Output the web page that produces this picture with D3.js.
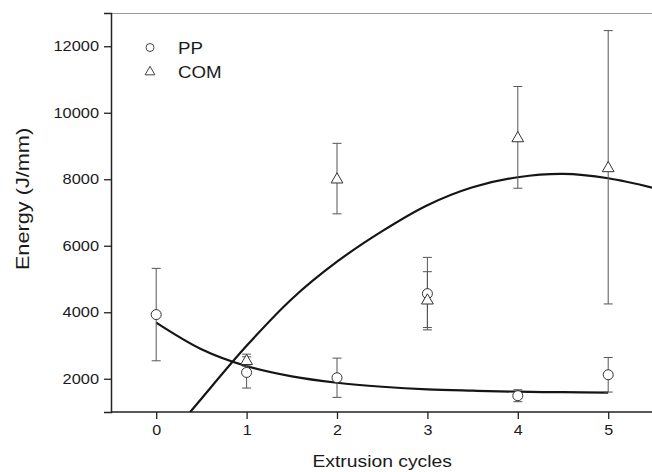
<!DOCTYPE html>
<html>
<head>
<meta charset="utf-8">
<script src="https://cdn.jsdelivr.net/npm/d3@7"></script>
<style>
	body { margin: 0; background: #fff; }
	text { font-family: 'Liberation Sans', Arial, sans-serif; fill: #1a1a1a; }
</style>
</head>
<body>
<div id="chart"></div>
<script>
// extrusion cycles and measured energy
const cycles = [0, 1, 2, 3, 4, 5];
const ppMean = [3930, 2190, 2030, 4560, 1490, 2120];
const ppErr = [1390, 470, 590, 1090, 180, 520];

const comCycles = [1, 2, 3, 4, 5];
const comMean = [2560, 8020, 4380, 9260, 8360];
const comErr = [180, 1060, 840, 1530, 4110];

// fitted curves
const ppFitX = [0, 0.5, 1, 1.5, 2, 2.5, 3, 3.5, 4, 4.5, 5];
const ppFitY = [3690, 2890, 2380, 2070, 1880, 1760, 1680, 1640, 1610, 1595, 1585];
const comFitX = [0.376, 0.5, 1, 1.5, 2, 2.5, 3, 3.5, 4, 4.5, 5, 5.5];
const comFitY = [1000, 1400, 2990, 4400, 5520, 6440, 7220, 7760, 8060, 8160, 8030, 7740];

const xTicks = [0, 1, 2, 3, 4, 5];
const yTicks = [2000, 4000, 6000, 8000, 10000, 12000];
const seriesNames = ['PP', 'COM'];

const width = 652, height = 472;
const margin = { top: 13, right: -1.4, bottom: 60, left: 111 };

const svg = d3.select('#chart').append('svg')
	.attr('width', width)
	.attr('height', height);

const x = d3.scaleLinear().domain([-0.5, 5.5]).range([margin.left, width - margin.right]);
const y = d3.scaleLinear().domain([1000, 13000]).range([height - margin.bottom, margin.top]);

// the original typeface is wider than Arial
const widen = (sel, k) => sel.each(function() {
	const w = this.getComputedTextLength();
	d3.select(this).attr('textLength', w * k).attr('lengthAdjust', 'spacingAndGlyphs');
});

svg.append('defs').append('clipPath').attr('id', 'plot')
	.append('rect')
	.attr('x', margin.left).attr('y', margin.top)
	.attr('width', x.range()[1] - margin.left)
	.attr('height', y.range()[0] - margin.top);

// top frame line
svg.append('line')
	.attr('x1', margin.left).attr('x2', width)
	.attr('y1', margin.top + 0.5).attr('y2', margin.top + 0.5)
	.attr('stroke', '#999').attr('stroke-width', 1);

// axes
const xAxis = svg.append('g')
	.attr('transform', `translate(0,${y.range()[0]})`)
	.call(d3.axisBottom(x).tickValues(xTicks).tickFormat(d3.format('d')).tickSizeOuter(0).tickSize(7).tickPadding(6));
xAxis.select('.domain').attr('stroke', '#222').attr('stroke-width', 1.5).attr('d', `M${margin.left},0H${width}`);
xAxis.selectAll('.tick line').attr('stroke', '#222').attr('stroke-width', 1.3);
xAxis.selectAll('.tick text').style('font-size', '14px').attr('fill', '#222').call(widen, 1.15);

const yAxis = svg.append('g')
	.attr('transform', `translate(${margin.left},0)`)
	.call(d3.axisLeft(y).tickValues(yTicks).tickFormat(d3.format('d')).tickSizeOuter(0).tickSize(7).tickPadding(5));
yAxis.select('.domain').attr('stroke', '#222').attr('stroke-width', 1.5);
yAxis.selectAll('.tick line').attr('stroke', '#222').attr('stroke-width', 1.3);
yAxis.selectAll('.tick text').style('font-size', '14px').attr('fill', '#222').call(widen, 1.17);

svg.append('text')
	.attr('x', (margin.left + x.range()[1]) / 2)
	.attr('y', 467)
	.attr('text-anchor', 'middle')
	.style('font-size', '16.5px')
	.text('Extrusion cycles')
	.call(widen, 1.17);

svg.append('text')
	.attr('transform', 'translate(29,199) rotate(-90)')
	.attr('text-anchor', 'middle')
	.style('font-size', '17.5px')
	.text('Energy (J/mm)')
	.call(widen, 1.24);

// fit curves
const plot = svg.append('g').attr('clip-path', 'url(#plot)');
const line = d3.line()
	.x(d => x(d[0]))
	.y(d => y(d[1]))
	.curve(d3.curveCatmullRom);

plot.append('path')
	.datum(ppFitX.map((v, i) => [v, ppFitY[i]]))
	.attr('d', line)
	.attr('fill', 'none').attr('stroke', '#151515').attr('stroke-width', 2.2);
plot.append('path')
	.datum(comFitX.map((v, i) => [v, comFitY[i]]))
	.attr('d', line)
	.attr('fill', 'none').attr('stroke', '#151515').attr('stroke-width', 2.2);

// error bars
const drawErrors = (xs, means, errs) => {
	const g = svg.append('g').attr('stroke', '#555').attr('stroke-width', 1);
	xs.forEach((c, i) => {
		const lo = y(means[i] - errs[i]), hi = y(means[i] + errs[i]), cx = x(c);
		g.append('line').attr('x1', cx).attr('x2', cx).attr('y1', lo).attr('y2', hi);
		g.append('line').attr('x1', cx - 4.5).attr('x2', cx + 4.5).attr('y1', hi).attr('y2', hi);
		g.append('line').attr('x1', cx - 4.5).attr('x2', cx + 4.5).attr('y1', lo).attr('y2', lo);
	});
};
drawErrors(cycles, ppMean, ppErr);
drawErrors(comCycles, comMean, comErr);

const triangle = d3.symbol().type(d3.symbolTriangle).size(60);

svg.append('g').selectAll('circle')
	.data(cycles)
	.enter()
	.append('circle')
	.attr('cx', d => x(d))
	.attr('cy', (d, i) => y(ppMean[i]))
	.attr('r', 5)
	.attr('fill', '#fff')
	.attr('stroke', '#333')
	.attr('stroke-width', 1);

svg.append('g').selectAll('path')
	.data(comCycles)
	.enter()
	.append('path')
	.attr('d', triangle)
	.attr('transform', (d, i) => `translate(${x(d)},${y(comMean[i]) + 1})`)
	.attr('fill', '#fff')
	.attr('stroke', '#333')
	.attr('stroke-width', 1);

// legend
const legend = svg.append('g');
legend.append('circle')
	.attr('cx', 150).attr('cy', 47.5).attr('r', 4)
	.attr('fill', '#fff').attr('stroke', '#444');
legend.append('path')
	.attr('d', d3.symbol().type(d3.symbolTriangle).size(42))
	.attr('transform', 'translate(150,72)')
	.attr('fill', '#fff').attr('stroke', '#444');
legend.selectAll('text')
	.data(seriesNames)
	.enter()
	.append('text')
	.attr('x', 178)
	.attr('y', (d, i) => 53.5 + i * 24)
	.style('font-size', '16px')
	.text(d => d)
	.call(widen, 1.17);
</script>
</body>
</html>
